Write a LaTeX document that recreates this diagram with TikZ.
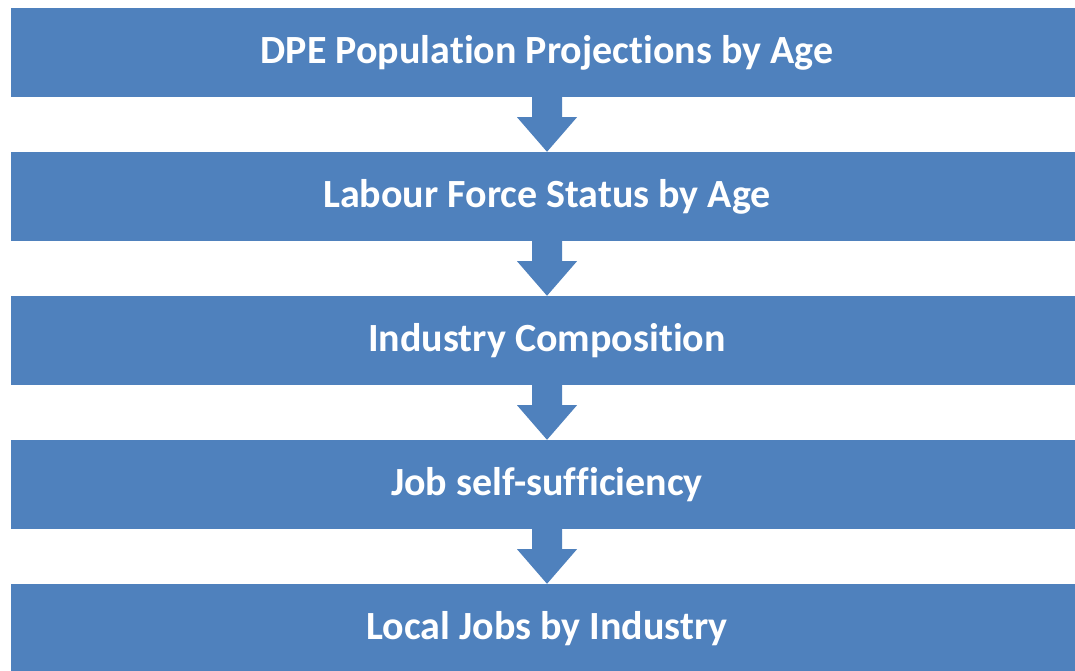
\documentclass[tikz,border=0pt]{standalone}
\usepackage{fontspec}
\setmainfont{Carlito}[Ligatures=NoCommon]
\usetikzlibrary{calc}
\definecolor{boxblue}{HTML}{4F81BD}
\tikzset{
  flowbox/.style={fill=boxblue, draw=none, minimum width=1072pt, minimum height=89pt, inner sep=0pt,
    text=white, font=\bfseries\fontsize{40}{48}\selectfont},
  downarrow/.style={fill=boxblue, draw=none}
}
\newcommand{\blockarrow}[2]{%
  \fill[downarrow] ($(#1.south)+(-15,0)$) -- ++(0,-20) -- ++(-15,0) -- (#2.north) -- ($(#1.south)+(30,-20)$) -- ++(-15,0) -- ($(#1.south)+(15,0)$) -- cycle;
}
\begin{document}
\begin{tikzpicture}[x=1pt,y=1pt]
\useasboundingbox (0,0) rectangle (1075,671);
\fill[white] (0,0) rectangle (1075,671);
\node[flowbox] (b1) at (547,671-52.5) {DPE Population Projections by Age};
\node[flowbox] (b2) at (547,671-196.5) {Labour Force Status by Age};
\node[flowbox] (b3) at (547,671-340.5) {Industry Composition};
\node[flowbox] (b4) at (547,671-484.5) {Job self-sufficiency};
\node[flowbox] (b5) at (547,671-628.5) {Local Jobs by Industry};
\blockarrow{b1}{b2}
\blockarrow{b2}{b3}
\blockarrow{b3}{b4}
\blockarrow{b4}{b5}
\end{tikzpicture}
\end{document}
